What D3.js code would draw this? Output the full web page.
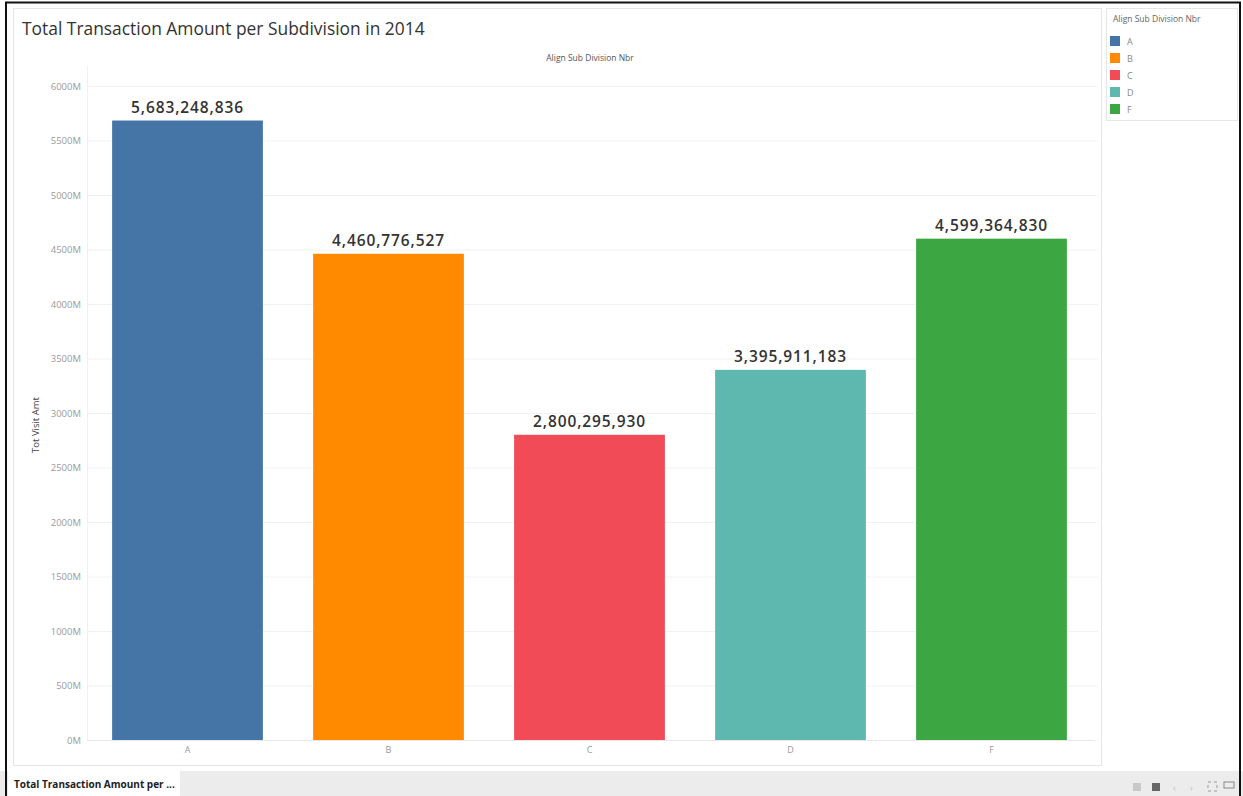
<!DOCTYPE html>
<html>
<head>
<meta charset="utf-8">
<script src="https://cdn.jsdelivr.net/npm/d3@7/dist/d3.min.js"></script>
<style>
  html, body { margin: 0; padding: 0; background: #fff; }
  svg { display: block; }
  text { font-family: "Open Sans", "Noto Sans", sans-serif; }
</style>
</head>
<body>
<svg id="chart" width="1243" height="796"></svg>
<script>
const categories = ["A", "B", "C", "D", "F"];
const values = [5683248836, 4460776527, 2800295930, 3395911183, 4599364830];
const colors = ["#4475a6", "#ff8a00", "#f04b56", "#5fb8af", "#3ca643"];
const yTicks = [0, 500e6, 1000e6, 1500e6, 2000e6, 2500e6, 3000e6, 3500e6, 4000e6, 4500e6, 5000e6, 5500e6, 6000e6];
const title = "Total Transaction Amount per Subdivision in 2014";
const yAxisTitle = "Tot Visit Amt";
const colHeader = "Align Sub Division Nbr";
const legendTitle = "Align Sub Division Nbr";
const tabLabel = "Total Transaction Amount per ...";

const svg = d3.select("#chart");

// bottom tab bar
svg.append("rect").attr("x", 0).attr("y", 771).attr("width", 1243).attr("height", 25).attr("fill", "#ececec");
svg.append("rect").attr("x", 8).attr("y", 771).attr("width", 172).attr("height", 25).attr("fill", "#fff");
svg.append("text").attr("x", 14).attr("y", 788).attr("font-size", 10).attr("font-weight", 700)
  .attr("fill", "#222").text(tabLabel);
// toolbar icons
const icons = svg.append("g").attr("fill", "#9a9a9a");
icons.append("rect").attr("x", 1133).attr("y", 783).attr("width", 8).attr("height", 8).attr("fill", "#c8c8c8");
icons.append("rect").attr("x", 1152).attr("y", 783).attr("width", 8).attr("height", 8).attr("fill", "#666");
icons.append("text").attr("x", 1173).attr("y", 791).attr("font-size", 9).attr("fill", "#bbb").text("‹");
icons.append("text").attr("x", 1190).attr("y", 791).attr("font-size", 9).attr("fill", "#bbb").text("›");
icons.append("rect").attr("x", 1208).attr("y", 782).attr("width", 9).attr("height", 9).attr("fill", "none")
  .attr("stroke", "#999").attr("stroke-dasharray", "3,3");
icons.append("rect").attr("x", 1224).attr("y", 782).attr("width", 10).attr("height", 6).attr("fill", "none")
  .attr("stroke", "#888");

// chart panel
svg.append("rect").attr("x", 13.5).attr("y", 8.5).attr("width", 1088).attr("height", 757)
  .attr("fill", "#fff").attr("stroke", "#e6e6e6");

// legend panel
svg.append("rect").attr("x", 1106.5).attr("y", 8.5).attr("width", 131).attr("height", 112)
  .attr("fill", "#fff").attr("stroke", "#e6e6e6");
svg.append("text").attr("x", 1113).attr("y", 22).attr("font-size", 8.5).attr("fill", "#666").text(legendTitle);
const leg = svg.append("g");
categories.forEach((c, i) => {
  leg.append("rect").attr("x", 1110).attr("y", 36 + i * 17).attr("width", 10).attr("height", 10).attr("fill", colors[i]);
  leg.append("text").attr("x", 1127).attr("y", 45 + i * 17).attr("font-size", 9).attr("fill", "#888").text(c);
});

// title
svg.append("text").attr("x", 22).attr("y", 35).attr("font-size", 17.4).attr("fill", "#333").text(title);

// plot
const plotLeft = 87, plotRight = 1092, plotTop = 86, plotBottom = 740;
const x = d3.scaleBand().domain(categories).range([plotLeft, plotRight]).paddingInner(0.25).paddingOuter(0.125);
const y = d3.scaleLinear().domain([0, 6000e6]).range([plotBottom, plotTop]);

svg.append("text").attr("x", 590).attr("y", 61).attr("text-anchor", "middle").attr("font-size", 8.5)
  .attr("fill", "#555").text(colHeader);

// gridlines
const grid = svg.append("g");
yTicks.forEach(t => {
  grid.append("line").attr("x1", plotLeft).attr("x2", plotRight + 6).attr("y1", y(t) + 0.5).attr("y2", y(t) + 0.5)
    .attr("stroke", "#f2f2f2");
});
svg.append("line").attr("x1", plotLeft + 0.5).attr("x2", plotLeft + 0.5).attr("y1", plotTop - 20).attr("y2", plotBottom)
  .attr("stroke", "#f0f0f0");

// y axis
const yAxis = d3.axisLeft(y).tickValues(yTicks).tickSize(0).tickPadding(6)
  .tickFormat(d => (d / 1e6) + "M");
const yg = svg.append("g").attr("transform", `translate(${plotLeft},0)`).call(yAxis);
yg.select(".domain").remove();
yg.selectAll("text").attr("font-size", 9.5).attr("fill", "#9a9a9a").attr("font-family", "Open Sans, sans-serif");

svg.append("text").attr("transform", `translate(39,425) rotate(-90)`).attr("text-anchor", "middle")
  .attr("font-size", 9.5).attr("fill", "#444").text(yAxisTitle);

// bars
const data = categories.map((c, i) => ({ c, v: values[i], col: colors[i] }));
svg.append("g").selectAll("rect").data(data).join("rect")
  .attr("x", d => x(d.c)).attr("y", d => y(d.v)).attr("width", x.bandwidth())
  .attr("height", d => y(0) - y(d.v)).attr("fill", d => d.col);

// value labels
svg.append("g").selectAll("text").data(data).join("text")
  .attr("x", d => x(d.c) + x.bandwidth() / 2).attr("y", d => y(d.v) - 8)
  .attr("text-anchor", "middle").attr("font-size", 15.5).attr("font-weight", 600).attr("fill", "#333")
  .attr("letter-spacing", 0.9)
  .text(d => d3.format(",")(d.v));

// x axis
const xAxis = d3.axisBottom(x).tickSize(0).tickPadding(7);
const xg = svg.append("g").attr("transform", `translate(0,${plotBottom})`).call(xAxis);
xg.select(".domain").attr("stroke", "#e8e8e8");
xg.selectAll("text").attr("font-size", 9).attr("fill", "#999").attr("font-family", "Open Sans, sans-serif");

// outer black frame
svg.append("rect").attr("x", 6).attr("y", 2.5).attr("width", 1234).attr("height", 800)
  .attr("fill", "none").attr("stroke", "#111").attr("stroke-width", 2);
</script>
</body>
</html>
